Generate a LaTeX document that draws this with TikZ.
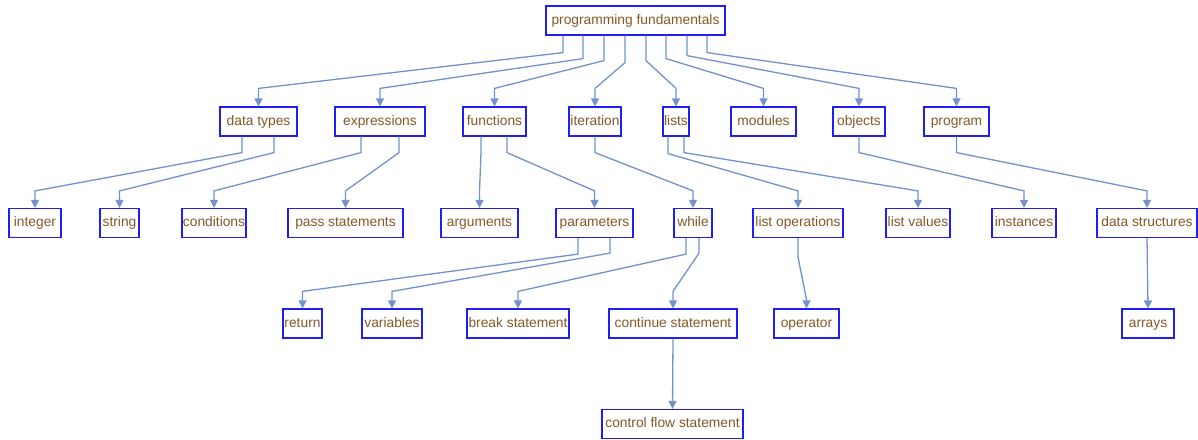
\documentclass[tikz,border=0pt]{standalone}
\usepackage{fontspec}
\setmainfont{Liberation Sans}
\usetikzlibrary{arrows.meta}
\definecolor{txtc}{RGB}{133,88,38}
\definecolor{boxc}{RGB}{30,30,245}
\definecolor{edgec}{RGB}{115,145,205}
\tikzset{
  bx/.style={draw=boxc,line width=1.2pt,fill=white,inner sep=0pt,minimum height=29pt,text height=10pt,text depth=3pt,text=txtc,font=\fontsize{13.8pt}{15pt}\selectfont},
  edge/.style={draw=edgec,line width=1.3pt,-{Triangle[length=8pt,width=8pt]}}
}
\newcommand{\tedge}[5]{% parent, xshift, down length, child, up length
  \draw[edge] ([xshift=#2pt]#1.south) -- ++(0,#3) -- ([yshift=#5pt]#4.north) -- (#4.north);}
\begin{document}
\begin{tikzpicture}[x=1pt,y=-1pt]
\useasboundingbox (0,0) rectangle (1198,439);
% root
\node[bx,minimum width=179pt] (root) at (635.5,20.5) {programming fundamentals};
% level 1
\node[bx,minimum width=77pt] (dt) at (258.5,121.5) {data types};
\node[bx,minimum width=90pt] (ex) at (380,121.5) {expressions};
\node[bx,minimum width=63pt] (fn) at (494.5,121.5) {functions};
\node[bx,minimum width=52pt] (it) at (595,121.5) {iteration};
\node[bx,minimum width=26pt] (li) at (676,121.5) {lists};
\node[bx,minimum width=65pt] (mo) at (763.5,121.5) {modules};
\node[bx,minimum width=52pt] (ob) at (859,121.5) {objects};
\node[bx,minimum width=65pt] (pr) at (956.5,121.5) {program};
% level 2
\node[bx,minimum width=52pt] (in) at (35,223) {integer};
\node[bx,minimum width=39pt] (st) at (119.5,223) {string};
\node[bx,minimum width=64pt] (co) at (214,223) {conditions};
\node[bx,minimum width=115pt] (ps) at (345.5,223) {pass statements};
\node[bx,minimum width=77pt] (ar) at (479.5,223) {arguments};
\node[bx,minimum width=77pt] (pa) at (594.5,223) {parameters};
\node[bx,minimum width=38pt] (wh) at (693,223) {while};
\node[bx,minimum width=90pt] (lo) at (798,223) {list operations};
\node[bx,minimum width=64pt] (lv) at (918,223) {list values};
\node[bx,minimum width=64pt] (is) at (1024,223) {instances};
\node[bx,minimum width=100pt] (ds) at (1147,223) {data structures};
% level 3
\node[bx,minimum width=39pt] (re) at (302.5,323.5) {return};
\node[bx,minimum width=60pt] (va) at (392,323.5) {variables};
\node[bx,minimum width=102pt] (bs) at (518,323.5) {break statement};
\node[bx,minimum width=128pt] (cs) at (673,323.5) {continue statement};
\node[bx,minimum width=65pt] (op) at (806.5,323.5) {operator};
\node[bx,minimum width=52pt] (ay) at (1148,323.5) {arrays};
% level 4
\node[bx,minimum width=141pt] (cf) at (672.5,424) {control flow statement};
% edges from root
\tedge{root}{-72.5}{17}{dt}{18}
\tedge{root}{-52.5}{23}{ex}{18}
\tedge{root}{-31.5}{25}{fn}{18}
\tedge{root}{-10.5}{27}{it}{18}
\tedge{root}{10.5}{25}{li}{18}
\tedge{root}{30.5}{23}{mo}{18}
\tedge{root}{51.5}{20}{ob}{18}
\tedge{root}{71.5}{17}{pr}{18}
% level 1 -> 2
\tedge{dt}{-16.5}{16}{in}{17}
\tedge{dt}{15.5}{16}{st}{17}
\tedge{ex}{-19}{16}{co}{17}
\tedge{ex}{19}{16}{ps}{17}
\tedge{fn}{-13.5}{16}{ar}{17}
\tedge{fn}{12.5}{16}{pa}{17}
\tedge{it}{0}{16}{wh}{17}
\tedge{li}{-8}{17}{lo}{17}
\tedge{li}{8}{16}{lv}{17}
\tedge{ob}{0}{16}{is}{17}
\tedge{pr}{0}{16}{ds}{17}
% level 2 -> 3
\tedge{pa}{-16.5}{16}{re}{17}
\tedge{pa}{15.5}{15}{va}{17}
\tedge{wh}{-7}{16}{bs}{17}
\tedge{wh}{6}{15}{cs}{17}
\tedge{lo}{0}{19}{op}{9}
\draw[edge] (ds.south) -- (ay.north);
% level 3 -> 4
\draw[edge] (cs.south) -- (cf.north);
\end{tikzpicture}
\end{document}
